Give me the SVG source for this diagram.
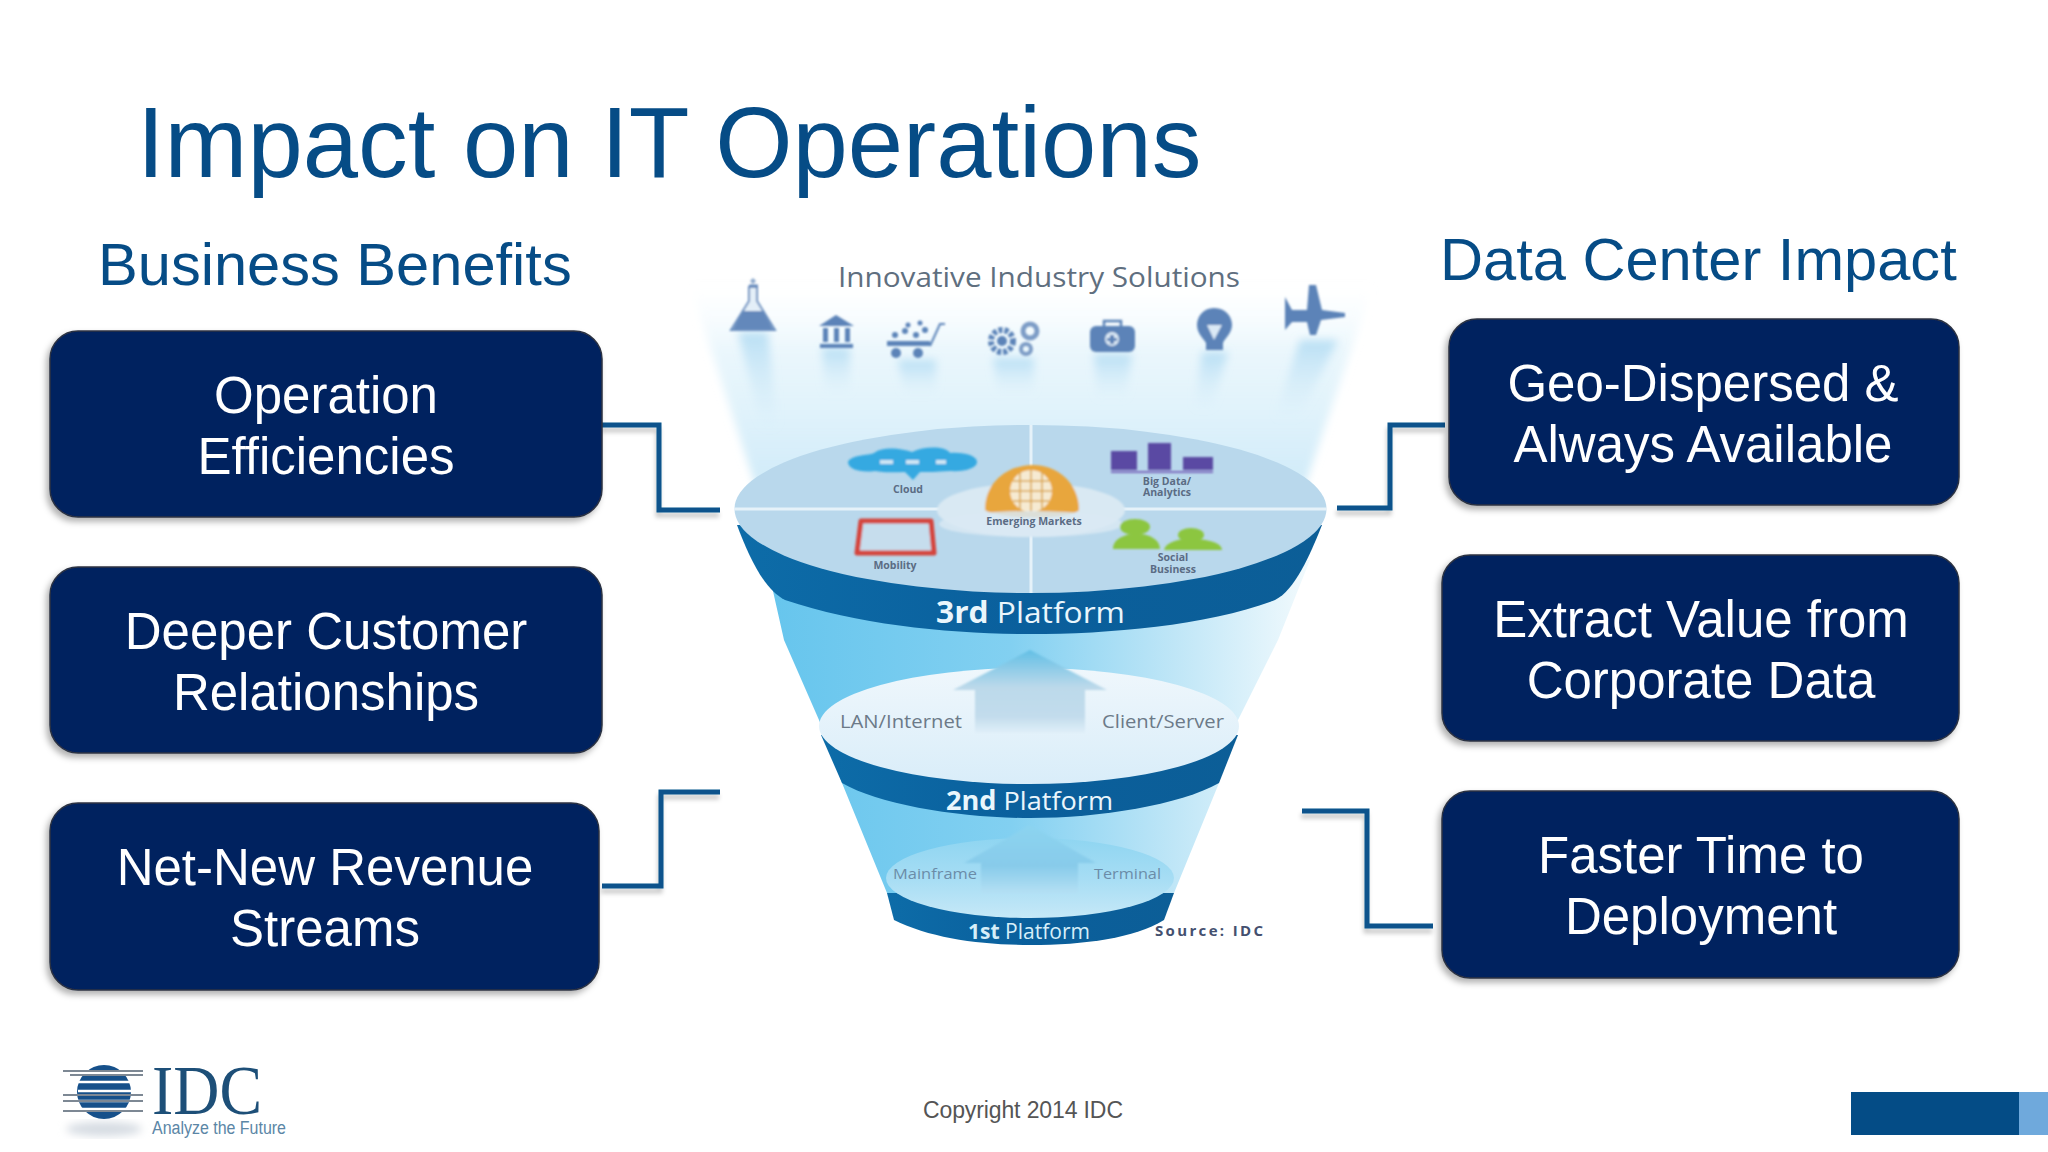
<svg xmlns="http://www.w3.org/2000/svg" width="2048" height="1152" viewBox="0 0 2048 1152">
<style>
.s{font-family:"Liberation Sans",Arial,sans-serif}
.o{font-family:"Open Sans","Liberation Sans",sans-serif}
.box{fill:#03205f;stroke:#2b3342;stroke-width:1.5;filter:url(#sh)}
.bt{font-size:51px;fill:#fff;text-anchor:middle}
.hd{font-size:59.6px;fill:#064c86}
.cn{fill:none;stroke:#07538c;stroke-width:5;filter:url(#lsh)}
.mini{font-size:10.5px;font-weight:700;fill:#5b6c84;text-anchor:middle}
.gy{font-size:19px;fill:#6c7a88}
.mf{font-size:15px;fill:#6b8ca8}
.ic{fill:#5b83b8}
.beam{fill:url(#bm)}
</style>
<defs>
<filter id="sh" x="-5%" y="-8%" width="110%" height="120%"><feDropShadow dx="-3" dy="4" stdDeviation="3" flood-color="#000" flood-opacity=".3"/></filter>
<filter id="lsh" x="-20%" y="-20%" width="140%" height="140%"><feDropShadow dx="-1" dy="5" stdDeviation="2" flood-color="#000" flood-opacity=".2"/></filter>
<filter id="bl" x="-5%" y="-5%" width="110%" height="110%"><feGaussianBlur stdDeviation=".9"/></filter>
<filter id="bl3" x="-20%" y="-20%" width="140%" height="140%"><feGaussianBlur stdDeviation="4"/></filter>
<linearGradient id="up" x1="0" y1="0" x2="0" y2="1"><stop offset="0" stop-color="#f4fbfe" stop-opacity="0"/><stop offset=".3" stop-color="#e6f5fc" stop-opacity=".8"/><stop offset="1" stop-color="#cdeaf8"/></linearGradient>
<linearGradient id="body" x1="0" y1="0" x2="1" y2="0"><stop offset="0" stop-color="#66c5ed"/><stop offset=".45" stop-color="#82d0f1"/><stop offset=".75" stop-color="#bfe6f7"/><stop offset="1" stop-color="#f2fafd"/></linearGradient>
<linearGradient id="band" x1="0" y1="0" x2="1" y2="0"><stop offset="0" stop-color="#0d6ca8"/><stop offset=".5" stop-color="#0a5f9c"/><stop offset="1" stop-color="#0c5e97"/></linearGradient>
<linearGradient id="e2" x1="0" y1="0" x2="0" y2="1"><stop offset="0" stop-color="#eff7fc"/><stop offset="1" stop-color="#d9edf9"/></linearGradient>
<linearGradient id="e1" x1="0" y1="0" x2="0" y2="1"><stop offset="0" stop-color="#8fd5f1"/><stop offset=".5" stop-color="#a6ddf4"/><stop offset="1" stop-color="#c6e8f7"/></linearGradient>
<linearGradient id="ar" x1="0" y1="0" x2="0" y2="1"><stop offset="0" stop-color="#62bfe5"/><stop offset=".45" stop-color="#bcd9ea"/><stop offset=".8" stop-color="#c2dcec"/><stop offset="1" stop-color="#e0eff9"/></linearGradient>
<linearGradient id="ar1" x1="0" y1="0" x2="0" y2="1"><stop offset="0" stop-color="#8cd4f0"/><stop offset=".6" stop-color="#88cbea"/><stop offset="1" stop-color="#b4e0f4"/></linearGradient>
<linearGradient id="bm" x1="0" y1="0" x2="0" y2="1"><stop offset="0" stop-color="#a6d6f1" stop-opacity=".75"/><stop offset="1" stop-color="#cfe9f8" stop-opacity="0"/></linearGradient>
</defs>
<rect width="2048" height="1152" fill="#fff"/>
<text class="s" x="137" y="177" font-size="99.4" fill="#064c86">Impact on IT Operations</text>
<text class="s hd" x="98" y="285">Business Benefits</text>
<text class="s hd" x="1440" y="280">Data Center Impact</text>

<g id="funnel">
<path d="M690,285H1373L1300,500H760Z" fill="url(#up)" filter="url(#bl3)"/>
<path d="M766,560H1310L1278,640L1238,720L1219,783L1174,893Q1030,960 887,893L842,783L819,720L784,640Z" fill="url(#body)"/>
<path d="M737,525C750,560 765,590 785,600C860,625 950,634 1030,634C1110,634 1210,625 1275,600C1295,590 1310,555 1322,525Z" fill="url(#band)"/>
<ellipse cx="1030.500" cy="509" rx="296" ry="84" fill="#b9d8ec"/>
<path d="M1031,425V593M734,509H1327" stroke="#e6f2f9" stroke-width="3" fill="none"/>
<path d="M821,735L842,783C880,805 960,818 1030,818C1100,818 1180,805 1219,783L1238,735Z" fill="url(#band)"/>
<ellipse cx="1029" cy="726" rx="210" ry="58" fill="url(#e2)"/>
<path d="M1030,650L953,690H975V733H1085V690H1107Z" fill="url(#ar)" filter="url(#bl)"/>
<path d="M887,893L894,920C930,938 980,945 1030,945C1085,945 1135,938 1164,920L1174,893Z" fill="url(#band)"/>
<ellipse cx="1030" cy="878" rx="144" ry="40" fill="url(#e1)"/>
<path d="M1030,825L964,863H981V893H1078V863H1096Z" fill="url(#ar1)" filter="url(#bl)"/>
</g>

<g id="icon-beams" filter="url(#bl3)">
<path class="beam" d="M738,332H768L778,430H762Z"/>
<path class="beam" d="M822,348H850V395H825Z"/>
<path class="beam" d="M898,360H936V395H904Z"/>
<path class="beam" d="M993,358H1034V395H998Z"/>
<path class="beam" d="M1094,354H1132L1126,400H1097Z"/>
<path class="beam" d="M1202,352H1228L1212,410H1194Z"/>
<path class="beam" d="M1300,340H1338L1298,420H1274Z"/>
</g>
<g id="industry-icons" filter="url(#bl)">
<path d="M749,287H757V301L775,330H731L749,301Z" fill="#e4eff8" stroke="#6c90c0" stroke-width="2"/>
<path d="M743,311H763L773,329H733Z" fill="#6388bb"/>
<path d="M749,286H758" stroke="#6388bb" stroke-width="3"/>
<path d="M753,278l3,3l-3,3l-3,-3z" fill="#8ba7cc"/>
<path class="ic" d="M836,315L854,326H819ZM820,344H853V348H820ZM823,328H828V342H823ZM834,328H839V342H834ZM845,328H850V342H845Z"/>
<circle class="ic" cx="896" cy="353" r="5"/><circle class="ic" cx="918" cy="353" r="5"/>
<path class="ic" d="M887,341H930V346H887Z"/>
<path d="M930,346L940,324H945" fill="none" stroke="#5b83b8" stroke-width="2"/>
<circle class="ic" cx="895" cy="335" r="3"/><circle class="ic" cx="905" cy="331" r="3"/><circle class="ic" cx="916" cy="335" r="3"/><circle class="ic" cx="925" cy="330" r="3"/><circle class="ic" cx="908" cy="325" r="2.500"/><circle class="ic" cx="920" cy="323" r="2.500"/>
<circle cx="1002" cy="341" r="11" fill="none" stroke="#5b83b8" stroke-width="6" stroke-dasharray="4 2"/>
<circle class="ic" cx="1002" cy="341" r="5"/>
<circle cx="1030" cy="331" r="7" fill="none" stroke="#7d9cc6" stroke-width="5"/>
<circle cx="1026" cy="349" r="5" fill="none" stroke="#7d9cc6" stroke-width="4"/>
<rect class="ic" x="1090" y="326" width="45" height="26" rx="6"/>
<path d="M1104,326V321H1121V326" fill="none" stroke="#5b83b8" stroke-width="2.500"/>
<circle cx="1112" cy="339" r="7" fill="#dbe9f5"/>
<path class="ic" d="M1110,335H1114V338H1117V341H1114V344H1110V341H1107V338H1110Z"/>
<path class="ic" d="M1214,308C1226,308 1232,317 1232,325C1232,333 1225,338 1223,343V350H1206V343C1203,338 1197,333 1197,325C1197,317 1203,308 1214,308Z"/>
<path d="M1207,325H1222L1214,340Z" fill="#dbe9f5"/>
<path class="ic" d="M1285,315V297L1292,310H1307L1309,285H1316L1322,310L1345,313V317L1321,320L1316,335H1310L1307,322H1292L1285,330Z"/>
</g>
<text class="o" x="838" y="287" font-size="27" fill="#5f6f7f" textLength="402" lengthAdjust="spacingAndGlyphs">Innovative Industry Solutions</text>

<g id="third-platform-icons" filter="url(#bl)">
<path d="M848,462C852,454 868,456 874,453C885,445 905,450 912,452C925,446 945,446 950,453C965,452 977,456 977,462C977,468 965,472 950,471C935,472 930,472 920,472L913,480L905,472C895,472 885,473 875,471C860,473 848,469 848,462Z" fill="#34a9e1"/>
<path d="M880,462H893M906,462H919M936,462H946" stroke="#cfe6f4" stroke-width="4"/>
<path d="M1111,451H1137V470H1111ZM1148,443H1171V470H1148ZM1183,457H1213V470H1183Z" fill="#5a4aa3"/>
<path d="M1111,472H1213" stroke="#7c6bbd" stroke-width="2"/>
<path d="M861,521H931L934,553H857Z" fill="#c6dded" stroke="#d4453e" stroke-width="5" stroke-linejoin="round"/>
<ellipse cx="1031" cy="510" rx="94" ry="27" fill="#d9e9f3"/>
<path d="M985,510C985,480 1010,465 1033,465C1056,465 1079,482 1079,510C1070,520 1000,520 985,510Z" fill="#e8a63c"/>
<ellipse cx="1031" cy="491" rx="21" ry="21" fill="#f6ead2"/>
<path d="M1010,491H1052M1013,481H1049M1013,501H1049M1031,470V512M1020,472V510M1042,472V510" stroke="#d9a650" stroke-width="1.500" fill="none"/>
<ellipse cx="1031" cy="524" rx="92" ry="13" fill="#d9e9f3" opacity=".85"/>
<ellipse cx="1135" cy="527" rx="15" ry="8" fill="#8cc63f"/><path d="M1113,549C1113,537 1130,533 1138,534C1150,534 1160,540 1160,549Z" fill="#8cc63f"/>
<ellipse cx="1191" cy="535" rx="13" ry="7" fill="#8cc63f"/><path d="M1164,550C1166,542 1180,538 1193,539C1208,539 1222,543 1222,550Z" fill="#8cc63f"/>
</g>
<g id="funnel-labels">
<text class="o mini" x="908" y="493">Cloud</text>
<text class="o mini" x="1167" y="485">Big Data/</text>
<text class="o mini" x="1167" y="496">Analytics</text>
<text class="o mini" x="1034" y="525">Emerging Markets</text>
<text class="o mini" x="895" y="569">Mobility</text>
<text class="o mini" x="1173" y="561">Social</text>
<text class="o mini" x="1173" y="573">Business</text>
<text class="o" x="936" y="623" font-size="30" fill="#eaf6fc" textLength="189" lengthAdjust="spacingAndGlyphs"><tspan font-weight="700">3rd</tspan> Platform</text>
<text class="o" x="946" y="810" font-size="26" fill="#eaf6fc" textLength="167" lengthAdjust="spacingAndGlyphs"><tspan font-weight="700">2nd</tspan> Platform</text>
<text class="o" x="968" y="939" font-size="22" fill="#d6eef9" textLength="122" lengthAdjust="spacingAndGlyphs"><tspan font-weight="700">1st</tspan> Platform</text>
<text class="o gy" x="840" y="728" textLength="122" lengthAdjust="spacingAndGlyphs">LAN/Internet</text>
<text class="o gy" x="1102" y="728" textLength="122" lengthAdjust="spacingAndGlyphs">Client/Server</text>
<text class="o mf" x="893" y="879" textLength="84" lengthAdjust="spacingAndGlyphs">Mainframe</text>
<text class="o mf" x="1094" y="879" textLength="67" lengthAdjust="spacingAndGlyphs">Terminal</text>
<text class="o" x="1155" y="936" font-size="15" font-weight="700" fill="#44506f" textLength="108">Source: IDC</text>
</g>

<g id="connectors">
<path class="cn" d="M602,425H659V510H720"/>
<path class="cn" d="M602,647H695"/>
<path class="cn" d="M602,886H661V792H720"/>
<path class="cn" d="M1445,425H1390V508H1337"/>
<path class="cn" d="M1442,643H1350"/>
<path class="cn" d="M1302,811H1367V926H1433"/>
</g>

<g id="n-operation"><rect class="box" x="50" y="331" width="552" height="186" rx="28"/><text class="s bt" x="326" y="413">Operation</text><text class="s bt" x="326" y="474">Efficiencies</text></g>
<g id="n-customer"><rect class="box" x="50" y="567" width="552" height="186" rx="28"/><text class="s bt" x="326" y="649">Deeper Customer</text><text class="s bt" x="326" y="710">Relationships</text></g>
<g id="n-revenue"><rect class="box" x="50" y="803" width="549" height="187" rx="28"/><text class="s bt" x="325" y="885">Net-New Revenue</text><text class="s bt" x="325" y="946">Streams</text></g>
<g id="n-geo"><rect class="box" x="1449" y="319" width="510" height="186" rx="28"/><text class="s bt" x="1703" y="401">Geo-Dispersed &amp;</text><text class="s bt" x="1703" y="462">Always Available</text></g>
<g id="n-value"><rect class="box" x="1442" y="555" width="517" height="186" rx="28"/><text class="s bt" x="1701" y="637">Extract Value from</text><text class="s bt" x="1701" y="698">Corporate Data</text></g>
<g id="n-faster"><rect class="box" x="1442" y="791" width="517" height="187" rx="28"/><text class="s bt" x="1701" y="873">Faster Time to</text><text class="s bt" x="1701" y="934">Deployment</text></g>

<g id="logo">
<ellipse cx="104" cy="1129" rx="38" ry="7" fill="#d5dbe2" filter="url(#bl3)"/>
<circle cx="104" cy="1092" r="27" fill="#16508a"/>
<path d="M75,1073H135M78,1082H135M78,1091H135M75,1101H135M75,1109H135" stroke="#fff" stroke-width="2.500"/>
<path d="M63,1071H143M70,1075H143M63,1095H143M63,1101H143M63,1111H143" stroke="#7d8894" stroke-width="2"/>
<text x="152" y="1114" font-family="Liberation Serif,serif" font-size="70" fill="#1d4f78" textLength="110" lengthAdjust="spacingAndGlyphs">IDC</text>
<text class="s" x="152" y="1134" font-size="18" fill="#5b86a6" textLength="134" lengthAdjust="spacingAndGlyphs">Analyze the Future</text>
</g>
<text class="s" x="923" y="1118" font-size="23" fill="#555" textLength="200">Copyright 2014 IDC</text>
<rect x="1851" y="1092" width="168" height="43" fill="#044c86"/>
<rect x="2019" y="1092" width="29" height="43" fill="#6fa9dc"/>
</svg>
